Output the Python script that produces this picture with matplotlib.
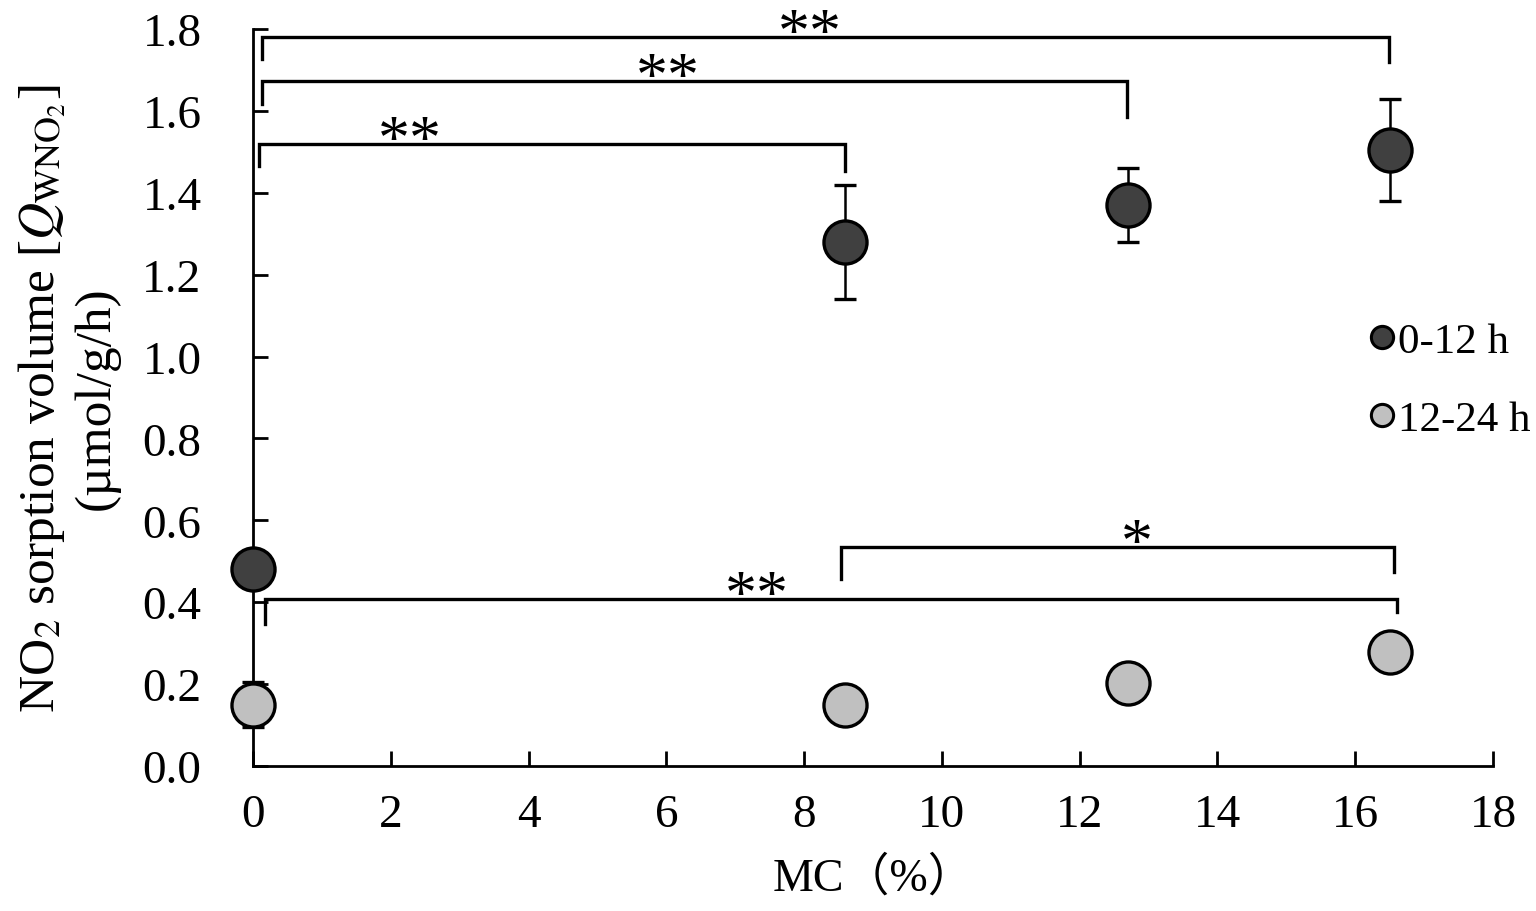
import matplotlib
matplotlib.use("Agg")
import matplotlib.pyplot as plt
from matplotlib.lines import Line2D

plt.rcParams['font.family'] = ['Liberation Serif', 'Noto Sans CJK JP', 'DejaVu Sans']
plt.rcParams['mathtext.fontset'] = 'stix'

# ---- data ----
mc = [0.0, 8.6, 12.7, 16.5]
early_y = [0.48, 1.28, 1.37, 1.505]
early_err = [0.04, 0.14, 0.09, 0.125]
late_y = [0.15, 0.148, 0.203, 0.278]
late_err = [0.055, 0.02, 0.02, 0.02]
series_labels = ['0-12 h', '12-24 h']

# significance brackets: x1, x2, y, left drop end, right drop end, label
brackets = [
    (0.13, 16.49, 1.78, 1.727, 1.72, '**'),
    (0.13, 12.68, 1.673, 1.617, 1.585, '**'),
    (0.09, 8.60, 1.519, 1.466, 1.453, '**'),
    (0.17, 16.60, 0.408, 0.347, 0.376, '**'),
    (8.54, 16.57, 0.535, 0.457, 0.474, '*'),
]
star_x = [8.08, 6.02, 2.28, 7.31, 12.83]

xticks = list(range(0, 19, 2))
yticks = [i * 0.2 for i in range(10)]

fig = plt.figure(figsize=(15.36, 9.12), dpi=100)
ax = fig.add_axes([253/1536, 1 - 767/912, (1493-253)/1536, (767-30)/912])

dark = '#404040'
light = '#c0c0c0'
ms = 31
mew = 2.4

ax.errorbar(mc, early_y, yerr=early_err, fmt='o', color='black', ecolor='black',
            elinewidth=1.8, capsize=8, capthick=2.2, markersize=ms,
            markerfacecolor=dark, markeredgecolor='black', markeredgewidth=mew,
            clip_on=False, zorder=3)
ax.errorbar(mc, late_y, yerr=late_err, fmt='o', color='black', ecolor='black',
            elinewidth=1.8, capsize=8, capthick=2.2, markersize=ms,
            markerfacecolor=light, markeredgecolor='black', markeredgewidth=mew,
            clip_on=False, zorder=3)

for (x1, x2, y, yl, yr, lab), sx in zip(brackets, star_x):
    ax.plot([x1, x1, x2, x2], [yl, y, y, yr], color='black', lw=2.4,
            clip_on=False, zorder=2, solid_joinstyle='miter')
    ax.annotate(lab, xy=(sx, y), xytext=(0, -10), textcoords='offset points',
                ha='center', va='baseline', fontsize=46, annotation_clip=False)

ax.set_xlim(0, 18)
ax.set_ylim(0, 1.8)
ax.set_xticks(xticks)
ax.set_xticklabels([str(t) for t in xticks])
ax.set_yticks(yticks)
ax.set_yticklabels([f'{t:.1f}' for t in yticks])
for s in ['top', 'right']:
    ax.spines[s].set_visible(False)
for s in ['left', 'bottom']:
    ax.spines[s].set_linewidth(2.0)
ax.tick_params(axis='both', direction='in', length=11, width=2.0, labelsize=34)
ax.tick_params(axis='x', pad=20)
ax.tick_params(axis='y', pad=37)

ax.set_xlabel('MC（%）', fontsize=33, labelpad=14)
ax.set_ylabel('NO$_2$ sorption volume [$Q_{\\mathrm{WNO_2}}$]\n(µmol/g/h)',
              fontsize=37, labelpad=16, linespacing=1.15)

handles = [
    Line2D([], [], marker='o', linestyle='none', markersize=16, markerfacecolor=dark,
           markeredgecolor='black', markeredgewidth=2.2),
    Line2D([], [], marker='o', linestyle='none', markersize=16, markerfacecolor=light,
           markeredgecolor='black', markeredgewidth=2.2),
]
fig.legend(handles, series_labels, loc='upper left', bbox_to_anchor=(1360/1536, 1 - 323/912),
           frameon=False, fontsize=31, handletextpad=-0.12, labelspacing=0.9,
           handlelength=1.0, borderpad=0, borderaxespad=0)

fig.savefig('out.png', dpi=100)
